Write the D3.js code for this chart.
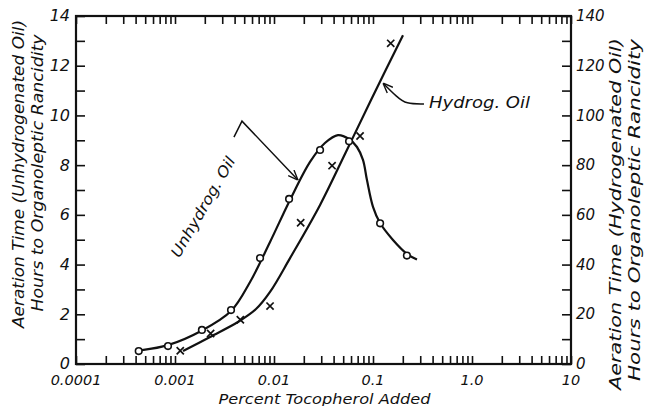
<!DOCTYPE html>
<html>
<head>
<meta charset="utf-8">
<script src="https://cdn.jsdelivr.net/npm/d3@7/dist/d3.min.js"></script>
<style>
  html, body { margin: 0; padding: 0; background: #fff; }
  svg text { font-family: "DejaVu Sans", sans-serif; font-style: italic; fill: #111; }
</style>
</head>
<body>
<svg id="chart" width="649" height="406"></svg>
<script>
// Measured points: unhydrogenated oil (hours, left axis)
const unhydrogPct   = [0.00043, 0.00085, 0.00187, 0.00368, 0.00723, 0.0142, 0.0292, 0.0573, 0.118, 0.22];
const unhydrogHours = [0.52, 0.72, 1.37, 2.17, 4.26, 6.64, 8.61, 8.96, 5.66, 4.36];

// Measured points: hydrogenated oil (hours, right axis)
const hydrogPct   = [0.00113, 0.00229, 0.00457, 0.00912, 0.0186, 0.0386, 0.074, 0.151];
const hydrogHours = [5.3, 12.3, 17.8, 23.3, 56.8, 79.8, 91.7, 129];

// Smoothed trend curves drawn through the measurements
const unhydrogCurvePct   = [0.000464, 0.000849, 0.001875, 0.00368, 0.00573, 0.00912, 0.01452, 0.02312, 0.0327, 0.0443, 0.0573, 0.0689, 0.0792, 0.0869, 0.1, 0.1178, 0.1592, 0.2203, 0.278];
const unhydrogCurveHours = [0.56, 0.76, 1.35, 2.13, 3.30, 4.91, 6.60, 8.13, 8.89, 9.21, 9.05, 8.73, 8.21, 7.40, 6.32, 5.67, 4.99, 4.43, 4.20];
const hydrogCurvePct   = [0.001205, 0.00226, 0.00432, 0.00658, 0.00912, 0.01452, 0.0292, 0.0533, 0.0955, 0.2009];
const hydrogCurveHours = [5.2, 10.9, 16.9, 22.1, 29.0, 42.6, 64.0, 85.3, 106.2, 132.3];

// Axis ticks and labels
const xTickValues = [0.0001, 0.001, 0.01, 0.1, 1, 10];
const xTickLabels = ["0.0001", "0.001", "0.01", "0.1", "1.0", "10"];
const yLeftTicks  = [0, 2, 4, 6, 8, 10, 12, 14];
const yRightTicks = [0, 20, 40, 60, 80, 100, 120, 140];

// Text
const xTitle = "Percent Tocopherol Added";
const leftTitle  = ["Aeration Time (Unhydrogenated Oil)", "Hours to Organoleptic Rancidity"];
const rightTitle = ["Aeration Time (Hydrogenated Oil)", "Hours to Organoleptic Rancidity"];
const unhydrogLabel = "Unhydrog. Oil";
const hydrogLabel = "Hydrog. Oil";

// Callout anchors (percent, left-axis hours)
const unhydrogLeader = [[0.00394, 9.13], [0.00475, 9.77], [0.01746, 7.40]];
const unhydrogLabelAt = [0.00192, 6.32];
const hydrogLeader = [[0.3273, 10.46], [0.2155, 10.46], [0.1746, 10.74], [0.1262, 11.30]];
const hydrogLabelAt = [0.368, 10.30];

const svg = d3.select("#chart");
const L = 76, R = 571, T = 16, B = 364;

const x  = d3.scaleLog().domain([1e-4, 10]).range([L, R]);
const yL = d3.scaleLinear().domain([0, 14]).range([B, T]);
const yR = d3.scaleLinear().domain([0, 140]).range([B, T]);

const ink = "#111";

// Axes with inward ticks
function styleAxis(g) {
  g.select(".domain").remove();
  g.selectAll(".tick line").attr("stroke", ink).attr("stroke-width", 1.6);
  g.selectAll(".tick text").remove();
}
const logTicks = x.ticks();
svg.append("g").attr("transform", `translate(0,${B})`)
  .call(d3.axisBottom(x).tickValues(logTicks).tickSizeInner(-8).tickSizeOuter(0)).call(styleAxis);
svg.append("g").attr("transform", `translate(0,${T})`)
  .call(d3.axisTop(x).tickValues(logTicks).tickSizeInner(-8).tickSizeOuter(0)).call(styleAxis);
svg.append("g").attr("transform", `translate(${L},0)`)
  .call(d3.axisLeft(yL).tickValues(d3.range(0, 15, 1)).tickSizeInner(-9).tickSizeOuter(0)).call(styleAxis);
svg.append("g").attr("transform", `translate(${R},0)`)
  .call(d3.axisRight(yR).tickValues(d3.range(0, 141, 10)).tickSizeInner(-9).tickSizeOuter(0)).call(styleAxis);

// Frame
svg.append("rect").attr("x", L).attr("y", T).attr("width", R - L).attr("height", B - T)
  .attr("fill", "none").attr("stroke", ink).attr("stroke-width", 2.2);

// Tick labels
svg.append("g").selectAll("text").data(xTickValues).join("text")
  .attr("x", d => x(d)).attr("y", B + 21).attr("text-anchor", "middle")
  .attr("font-size", 14.5).text((d, i) => xTickLabels[i]);
svg.append("g").selectAll("text").data(yLeftTicks).join("text")
  .attr("x", L - 6).attr("y", d => yL(d)).attr("dy", "0.34em").attr("text-anchor", "end")
  .attr("font-size", 16).text(d => d);
svg.append("g").selectAll("text").data(yRightTicks).join("text")
  .attr("x", R + 5).attr("y", d => yR(d)).attr("dy", "0.34em").attr("text-anchor", "start")
  .attr("font-size", 15).text(d => d);

// Axis titles
svg.append("text").attr("x", (L + R) / 2 + 1).attr("y", 404).attr("text-anchor", "middle")
  .attr("font-size", 14.5).attr("textLength", 212).attr("lengthAdjust", "spacingAndGlyphs").text(xTitle);
[[24, 174, 308], [43, 173, 277]].forEach(([cx, cy, len], i) => {
  svg.append("text").attr("transform", `translate(${cx},${cy}) rotate(-90)`)
    .attr("text-anchor", "middle").attr("font-size", 15)
    .attr("textLength", len).attr("lengthAdjust", "spacingAndGlyphs").text(leftTitle[i]);
});
[[621, 214, 352], [640, 210, 342]].forEach(([cx, cy, len], i) => {
  svg.append("text").attr("transform", `translate(${cx},${cy}) rotate(-90)`)
    .attr("text-anchor", "middle").attr("font-size", 15)
    .attr("textLength", len).attr("lengthAdjust", "spacingAndGlyphs").text(rightTitle[i]);
});

// Trend curves
const lineL = d3.line().x(d => x(d[0])).y(d => yL(d[1])).curve(d3.curveCatmullRom.alpha(0.5));
const lineR = d3.line().x(d => x(d[0])).y(d => yR(d[1])).curve(d3.curveCatmullRom.alpha(0.5));
svg.append("path").attr("d", lineL(d3.zip(unhydrogCurvePct, unhydrogCurveHours)))
  .attr("fill", "none").attr("stroke", ink).attr("stroke-width", 2.2);
svg.append("path").attr("d", lineR(d3.zip(hydrogCurvePct, hydrogCurveHours)))
  .attr("fill", "none").attr("stroke", ink).attr("stroke-width", 2.2);

// Points: circles (unhydrogenated), crosses (hydrogenated)
svg.append("g").selectAll("circle").data(d3.zip(unhydrogPct, unhydrogHours)).join("circle")
  .attr("cx", d => x(d[0])).attr("cy", d => yL(d[1])).attr("r", 3.3)
  .attr("fill", "#fff").attr("stroke", ink).attr("stroke-width", 1.6);
const s = 3.6;
svg.append("g").selectAll("path").data(d3.zip(hydrogPct, hydrogHours)).join("path")
  .attr("d", d => {
    const cx = x(d[0]), cy = yR(d[1]);
    return `M${cx - s},${cy - s}L${cx + s},${cy + s}M${cx - s},${cy + s}L${cx + s},${cy - s}`;
  })
  .attr("stroke", ink).attr("stroke-width", 1.7).attr("fill", "none");

// Arrowhead
svg.append("defs").append("marker").attr("id", "arrow")
  .attr("viewBox", "0 -5 10 10").attr("refX", 10).attr("refY", 0)
  .attr("markerWidth", 10).attr("markerHeight", 10).attr("markerUnits", "userSpaceOnUse")
  .attr("orient", "auto")
  .append("path").attr("d", "M0,-4L10,0L0,4").attr("fill", "none").attr("stroke", ink).attr("stroke-width", 1.4);

// Callouts
const lineP = d3.line().x(d => x(d[0])).y(d => yL(d[1]));
svg.append("path").attr("d", lineP(unhydrogLeader)).attr("fill", "none")
  .attr("stroke", ink).attr("stroke-width", 1.5).attr("marker-end", "url(#arrow)");
svg.append("path").attr("d", lineP.curve(d3.curveBasis)(hydrogLeader)).attr("fill", "none")
  .attr("stroke", ink).attr("stroke-width", 1.5).attr("marker-end", "url(#arrow)");

svg.append("text")
  .attr("transform", `translate(${x(unhydrogLabelAt[0])},${yL(unhydrogLabelAt[1])}) rotate(-60)`)
  .attr("text-anchor", "middle").attr("dy", "0.35em").attr("font-size", 15)
  .attr("textLength", 113).attr("lengthAdjust", "spacingAndGlyphs").text(unhydrogLabel);
svg.append("text").attr("x", x(hydrogLabelAt[0])).attr("y", yL(hydrogLabelAt[1]))
  .attr("font-size", 15).attr("textLength", 101).attr("lengthAdjust", "spacingAndGlyphs").text(hydrogLabel);
</script>
</body>
</html>
